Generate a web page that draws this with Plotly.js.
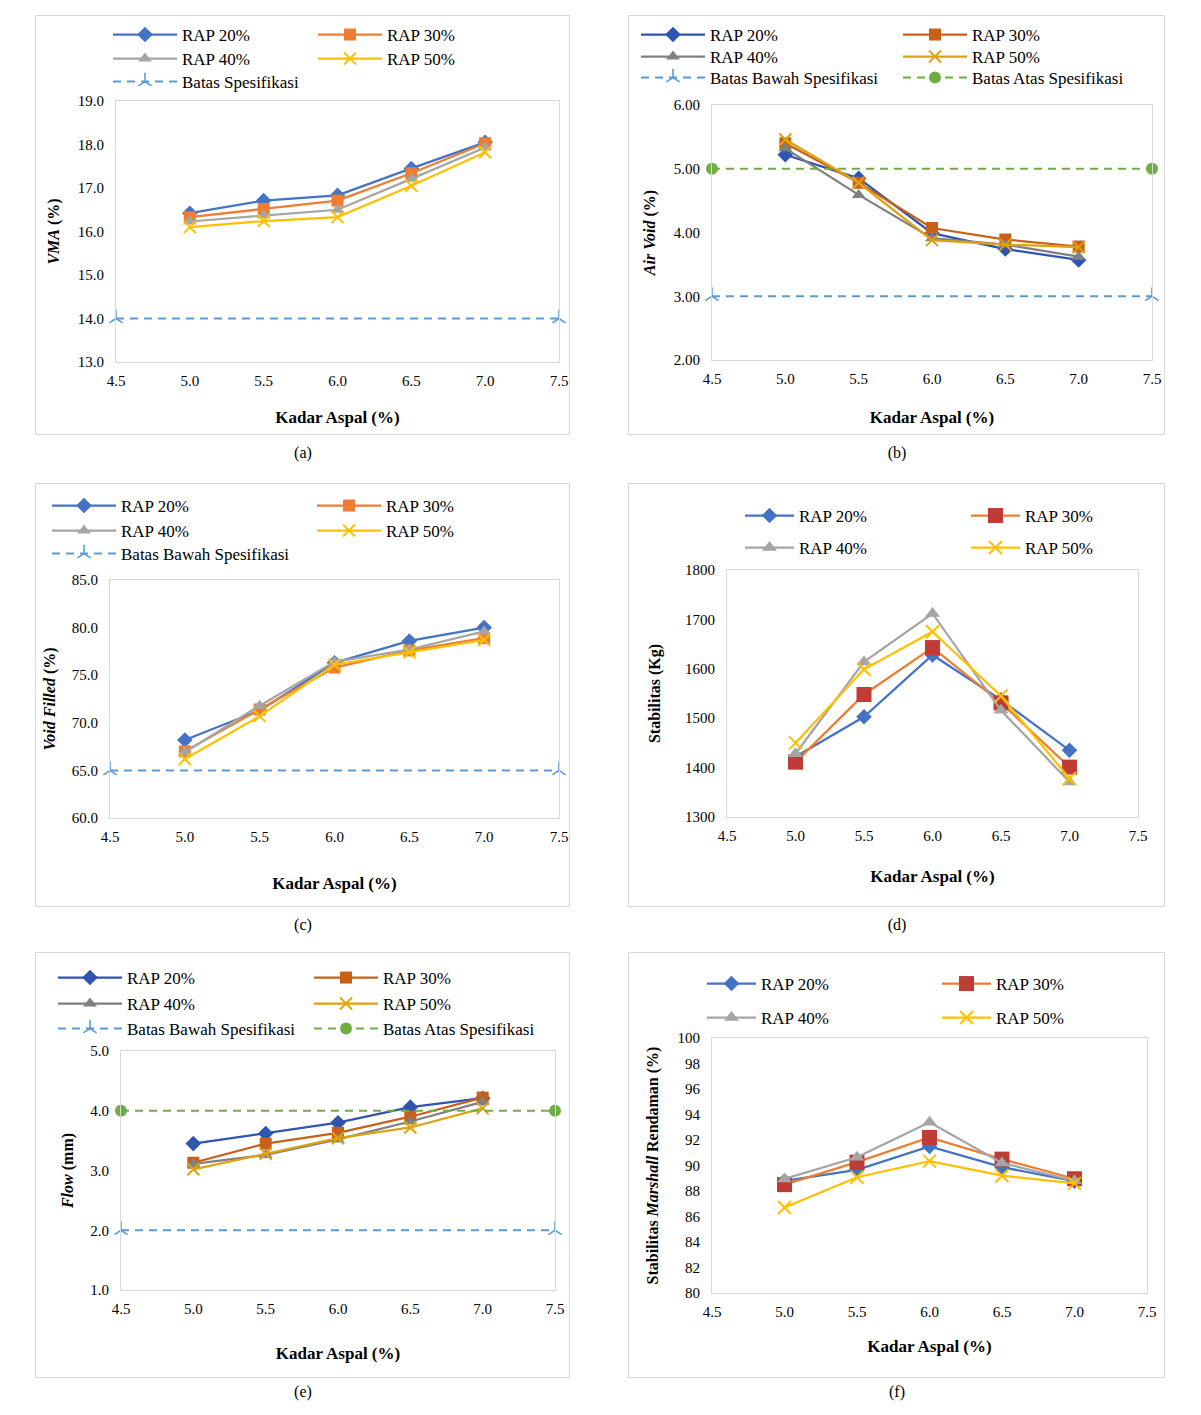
<!DOCTYPE html>
<html>
<head>
<meta charset="utf-8">
<script src="https://cdn.plot.ly/plotly-3.0.1.min.js"></script>
<style>
  body { margin: 0; background: #fff; width: 1201px; height: 1415px; position: relative;
         font-family: 'Liberation Serif', 'Times New Roman', serif; }
  .panel { position: absolute; outline: 1px solid #d9d9d9; outline-offset: -1px; }
  .cap { position: absolute; width: 60px; text-align: center; font-size: 16px; line-height: 18px; color: #000; }
</style>
</head>
<body>
<div id="chartA" class="panel" style="left:35px;top:15px;width:535px;height:420px"></div>
<div id="chartB" class="panel" style="left:628px;top:15px;width:537px;height:420px"></div>
<div id="chartC" class="panel" style="left:35px;top:483px;width:535px;height:424px"></div>
<div id="chartD" class="panel" style="left:628px;top:483px;width:537px;height:424px"></div>
<div id="chartE" class="panel" style="left:35px;top:952px;width:535px;height:426px"></div>
<div id="chartF" class="panel" style="left:628px;top:952px;width:537px;height:426px"></div>
<div class="cap" style="left:273px;top:444px">(a)</div>
<div class="cap" style="left:867px;top:444px">(b)</div>
<div class="cap" style="left:273px;top:916px">(c)</div>
<div class="cap" style="left:867px;top:916px">(d)</div>
<div class="cap" style="left:273px;top:1383px">(e)</div>
<div class="cap" style="left:867px;top:1383px">(f)</div>
<script>
// ---- data ----
const kadarAspal = [5.0, 5.5, 6.0, 6.5, 7.0];
const batasX = [4.5, 7.5];
const seriesNames = ['RAP 20%', 'RAP 30%', 'RAP 40%', 'RAP 50%'];

// VMA (%)
const vmaRap20 = [16.42, 16.71, 16.83, 17.45, 18.05];
const vmaRap30 = [16.33, 16.52, 16.71, 17.34, 18.03];
const vmaRap40 = [16.23, 16.37, 16.50, 17.21, 17.93];
const vmaRap50 = [16.10, 16.24, 16.33, 17.05, 17.82];
const vmaMin = [14.0, 14.0];

// Air Void (%)
const vimRap20 = [5.22, 4.85, 3.99, 3.74, 3.57];
const vimRap30 = [5.40, 4.78, 4.07, 3.89, 3.78];
const vimRap40 = [5.32, 4.59, 3.91, 3.81, 3.62];
const vimRap50 = [5.46, 4.78, 3.88, 3.81, 3.77];
const vimMin = [3.0, 3.0];
const vimMax = [5.0, 5.0];

// Void Filled (%)
const vfaRap20 = [68.2, 71.3, 76.3, 78.6, 80.0];
const vfaRap30 = [67.0, 71.4, 75.8, 77.6, 78.9];
const vfaRap40 = [66.9, 71.8, 76.4, 77.7, 79.6];
const vfaRap50 = [66.2, 70.7, 76.1, 77.4, 78.7];
const vfaMin = [65.0, 65.0];

// Stabilitas (Kg)
const stabRap20 = [1422, 1503, 1628, 1537, 1435];
const stabRap30 = [1411, 1548, 1643, 1531, 1401];
const stabRap40 = [1428, 1614, 1712, 1516, 1371];
const stabRap50 = [1450, 1599, 1675, 1545, 1378];

// Flow (mm)
const flowRap20 = [3.45, 3.62, 3.80, 4.06, 4.21];
const flowRap30 = [3.13, 3.45, 3.63, 3.90, 4.22];
const flowRap40 = [3.11, 3.26, 3.52, 3.82, 4.15];
const flowRap50 = [3.02, 3.28, 3.54, 3.72, 4.04];
const flowMin = [2.0, 2.0];
const flowMax = [4.0, 4.0];

// Stabilitas Marshall Rendaman (%)
const smrRap20 = [88.8, 89.66, 91.5, 89.87, 88.77];
const smrRap30 = [88.5, 90.26, 92.2, 90.5, 88.96];
const smrRap40 = [88.95, 90.65, 93.4, 90.2, 88.8];
const smrRap50 = [86.7, 89.08, 90.34, 89.2, 88.6];

// ---- styling ----
const FONT = "'Liberation Serif', 'Times New Roman', serif";
const SYMBOLS = ['diamond', 'square', 'triangle-up', 'x-thin-open'];
const PALETTE_LIGHT = { line: ['#4472C4', '#ED7D31', '#A5A5A5', '#FFC000'],
                        mark: ['#4472C4', '#ED7D31', '#A5A5A5', '#FFC000'] };
const PALETTE_DARK  = { line: ['#2F55B0', '#C9601A', '#808080', '#E0A20E'],
                        mark: ['#2F55B0', '#C9601A', '#808080', '#E0A20E'] };
const PALETTE_RED   = { line: ['#4472C4', '#ED7D31', '#A5A5A5', '#FFC000'],
                        mark: ['#4472C4', '#BE3B36', '#A5A5A5', '#FFC000'] };

function buildPanel(id, o) {
  const W = o.width, H = o.height, m = o.margin;
  const pw = W - m.l - m.r, ph = H - m.t - m.b;
  const traces = [];
  const layout = {
    width: W, height: H,
    margin: { l: m.l, r: m.r, t: m.t, b: m.b, pad: 0, autoexpand: false },
    paper_bgcolor: 'rgba(0,0,0,0)', plot_bgcolor: '#fff',
    font: { family: FONT, size: 15, color: '#000' },
    showlegend: true, hovermode: false,
    xaxis: {
      range: [4.5, 7.5], tick0: 4.5, dtick: 0.5, tickformat: '.1f',
      showgrid: false, zeroline: false, showline: true, mirror: true,
      linecolor: '#d9d9d9', linewidth: 1, ticks: '', ticklabelstandoff: 5,
      tickfont: { family: FONT, size: 15, color: '#000' },
      title: { text: '<b>Kadar Aspal (%)</b>', font: { family: FONT, size: 17, color: '#000' }, standoff: o.xStandoff }
    },
    yaxis: {
      range: o.yRange, tick0: o.yRange[0], dtick: o.dtick, tickformat: o.yFormat,
      showgrid: false, zeroline: false, showline: true, mirror: true,
      linecolor: '#d9d9d9', linewidth: 1, ticks: '', ticklabelstandoff: 8,
      tickfont: { family: FONT, size: 15, color: '#000' },
      title: { text: o.yTitle, font: { family: FONT, size: 16, color: '#000' }, standoff: o.yStandoff }
    }
  };

  const entries = [];
  o.series.forEach((ys, i) => {
    const isX = SYMBOLS[i] === 'x-thin-open';
    entries.push({
      type: 'scatter', mode: 'lines+markers', x: kadarAspal, y: ys, name: seriesNames[i],
      cliponaxis: false,
      line: { color: o.palette.line[i], width: 2.25 },
      marker: {
        symbol: SYMBOLS[i], size: o.markerSizes[i], color: o.palette.mark[i],
        line: isX ? { color: o.palette.mark[i], width: 2 } : { width: 0 }
      }
    });
  });
  o.limits.forEach(lim => {
    const lower = lim.kind === 'min';
    entries.push({
      type: 'scatter', mode: 'lines+markers', x: batasX, y: lim.y, name: lim.name,
      cliponaxis: false,
      line: { color: lower ? '#5B9BD5' : '#70AD47', width: 2, dash: '8px,6px' },
      marker: lower
        ? { symbol: 'y-up-open', size: 11, color: '#5B9BD5', line: { color: '#5B9BD5', width: 1.6 } }
        : { symbol: 'circle', size: 12, color: '#70AD47', line: { width: 0 } }
    });
  });

  // one legend per entry so each can sit in its own grid cell
  entries.forEach((tr, k) => {
    const key = k === 0 ? 'legend' : 'legend' + (k + 1);
    tr.legend = key;
    const pos = o.legendPos[k];
    layout[key] = {
      x: (pos[0] - o.left - 5 - m.l) / pw,
      y: (o.top + H - m.b - pos[1]) / ph,
      xanchor: 'left', yanchor: 'middle', orientation: 'h',
      itemwidth: o.itemWidth, bgcolor: 'rgba(0,0,0,0)', borderwidth: 0,
      font: { family: FONT, size: 17, color: '#000' }, itemclick: false, itemdoubleclick: false
    };
    traces.push(tr);
  });

  Plotly.newPlot(id, traces, layout, { staticPlot: true, displayModeBar: false });
}

buildPanel('chartA', {
  left: 35, top: 15, width: 535, height: 420, margin: { l: 81, r: 11, t: 86, b: 73 },
  yRange: [13, 19], dtick: 1, yFormat: '.1f', xStandoff: 23, yStandoff: 14,
  yTitle: '<b><i>VMA</i> (%)</b>',
  series: [vmaRap20, vmaRap30, vmaRap40, vmaRap50],
  limits: [{ y: vmaMin, kind: 'min', name: 'Batas Spesifikasi' }],
  palette: PALETTE_LIGHT, markerSizes: [12, 12, 12, 12], itemWidth: 64,
  legendPos: [[113, 35], [318, 35], [113, 59], [318, 59], [113, 82]]
});

buildPanel('chartB', {
  left: 628, top: 15, width: 537, height: 420, margin: { l: 84, r: 13, t: 90, b: 75 },
  yRange: [2, 6], dtick: 1, yFormat: '.2f', xStandoff: 25, yStandoff: 14,
  yTitle: '<b><i>Air Void</i> (%)</b>',
  series: [vimRap20, vimRap30, vimRap40, vimRap50],
  limits: [{ y: vimMin, kind: 'min', name: 'Batas Bawah Spesifikasi' },
           { y: vimMax, kind: 'max', name: 'Batas Atas Spesifikasi' }],
  palette: PALETTE_DARK, markerSizes: [12, 12, 12, 12], itemWidth: 64,
  legendPos: [[641, 35], [903, 35], [641, 57], [903, 57], [641, 78], [903, 78]]
});

buildPanel('chartC', {
  left: 35, top: 483, width: 535, height: 424, margin: { l: 75, r: 11, t: 97, b: 89 },
  yRange: [60, 85], dtick: 5, yFormat: '.1f', xStandoff: 33, yStandoff: 12,
  yTitle: '<b><i>Void Filled</i> (%)</b>',
  series: [vfaRap20, vfaRap30, vfaRap40, vfaRap50],
  limits: [{ y: vfaMin, kind: 'min', name: 'Batas Bawah Spesifikasi' }],
  palette: PALETTE_LIGHT, markerSizes: [12, 12, 12, 12], itemWidth: 64,
  legendPos: [[52, 506], [317, 506], [52, 531], [317, 531], [52, 554]]
});

buildPanel('chartD', {
  left: 628, top: 483, width: 537, height: 424, margin: { l: 99, r: 27, t: 87, b: 90 },
  yRange: [1300, 1800], dtick: 100, yFormat: 'd', xStandoff: 27, yStandoff: 20,
  yTitle: '<b>Stabilitas (Kg)</b>',
  series: [stabRap20, stabRap30, stabRap40, stabRap50],
  limits: [],
  palette: PALETTE_RED, markerSizes: [12, 15, 13, 13], itemWidth: 49,
  legendPos: [[745, 516], [971, 516], [745, 548], [971, 548]]
});

buildPanel('chartE', {
  left: 35, top: 952, width: 535, height: 426, margin: { l: 86, r: 15, t: 99, b: 88 },
  yRange: [1, 5], dtick: 1, yFormat: '.1f', xStandoff: 31, yStandoff: 12,
  yTitle: '<b><i>Flow</i> (mm)</b>',
  series: [flowRap20, flowRap30, flowRap40, flowRap50],
  limits: [{ y: flowMin, kind: 'min', name: 'Batas Bawah Spesifikasi' },
           { y: flowMax, kind: 'max', name: 'Batas Atas Spesifikasi' }],
  palette: PALETTE_DARK, markerSizes: [12, 12, 12, 12], itemWidth: 64,
  legendPos: [[58, 978], [314, 978], [58, 1004], [314, 1004], [58, 1029], [314, 1029]]
});

buildPanel('chartF', {
  left: 628, top: 952, width: 537, height: 426, margin: { l: 84, r: 18, t: 86, b: 85 },
  yRange: [80, 100], dtick: 2, yFormat: 'd', xStandoff: 21, yStandoff: 14,
  yTitle: '<b>Stabilitas <i>Marshall</i> Rendaman (%)</b>',
  series: [smrRap20, smrRap30, smrRap40, smrRap50],
  limits: [],
  palette: PALETTE_RED, markerSizes: [12, 15, 13, 13], itemWidth: 49,
  legendPos: [[707, 984], [942, 984], [707, 1018], [942, 1018]]
});
</script>
</body>
</html>
